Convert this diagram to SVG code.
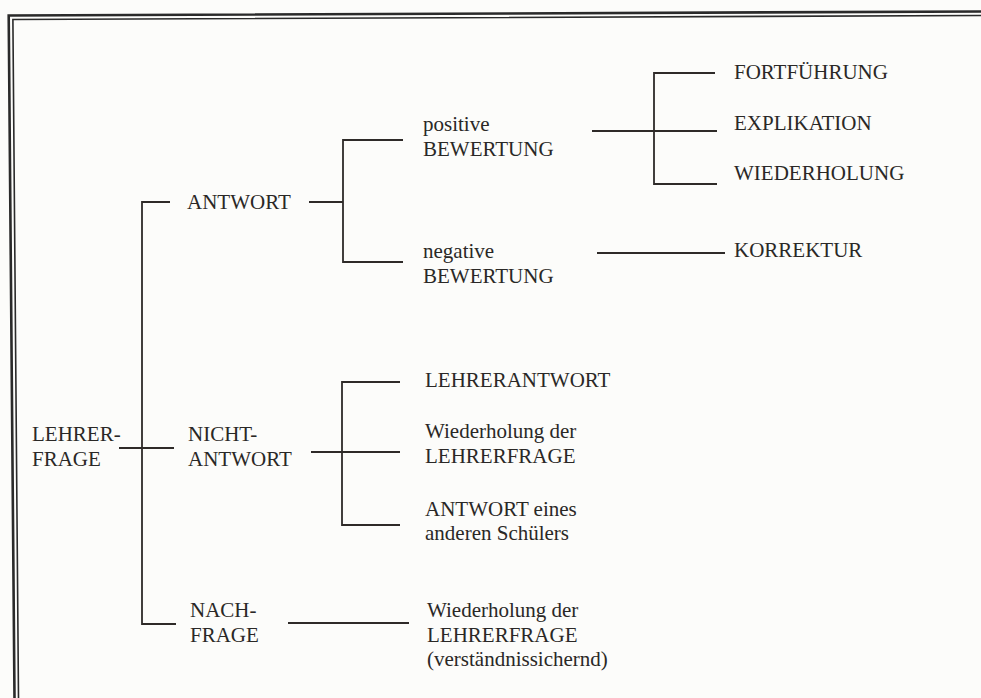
<svg xmlns="http://www.w3.org/2000/svg" width="981" height="698" viewBox="0 0 981 698">
  <style>
    .t { font-family: "Liberation Serif", "Times New Roman", serif; font-size: 21px; fill: #2a2826; }
    .c { stroke: #2e2a28; stroke-width: 1.8; fill: none; stroke-linecap: butt; }
    .b1 { stroke: #2a2a2a; stroke-width: 2.6; fill: none; }
    .b2 { stroke: #2a2a2a; stroke-width: 1.6; fill: none; }
  </style>
  <rect x="0" y="0" width="981" height="698" fill="#fcfcfa"/>
  <g id="frame">
    <path class="b1" d="M 981 11.5 L 8.7 15.5 L 14.5 698"/>
    <path class="b2" d="M 981 15.5 L 12.9 19.5 L 18.5 698"/>
  </g>
  <g id="connectors">
    <path class="c" d="M 119 448 H 174"/>
    <path class="c" d="M 170 202 H 142 V 624 H 176"/>
    <path class="c" d="M 309 202 H 343"/>
    <path class="c" d="M 403 140 H 343 V 262 H 403"/>
    <path class="c" d="M 592 131 H 717"/>
    <path class="c" d="M 715 73 H 654 V 184 H 717"/>
    <path class="c" d="M 597 253 H 725"/>
    <path class="c" d="M 311 452 H 400"/>
    <path class="c" d="M 400 382 H 342 V 525 H 400"/>
    <path class="c" d="M 288 623 H 409"/>
  </g>
  <g id="lehrerfrage"><text class="t" x="32" y="441">LEHRER-</text><text class="t" x="32" y="466">FRAGE</text></g>
  <g id="antwort"><text class="t" x="187" y="209">ANTWORT</text></g>
  <g id="nichtantwort"><text class="t" x="188" y="441">NICHT-</text><text class="t" x="188" y="466">ANTWORT</text></g>
  <g id="nachfrage"><text class="t" x="190" y="617">NACH-</text><text class="t" x="190" y="642">FRAGE</text></g>
  <g id="positive"><text class="t" x="423" y="131">positive</text><text class="t" x="423" y="156">BEWERTUNG</text></g>
  <g id="negative"><text class="t" x="423" y="258">negative</text><text class="t" x="423" y="283">BEWERTUNG</text></g>
  <g id="fortfuehrung"><text class="t" x="734" y="79">FORTFÜHRUNG</text></g>
  <g id="explikation"><text class="t" x="734" y="130">EXPLIKATION</text></g>
  <g id="wiederholung"><text class="t" x="734" y="180">WIEDERHOLUNG</text></g>
  <g id="korrektur"><text class="t" x="734" y="257">KORREKTUR</text></g>
  <g id="lehrerantwort"><text class="t" x="425" y="387">LEHRERANTWORT</text></g>
  <g id="wiederholung-lf"><text class="t" x="425" y="438">Wiederholung  der</text><text class="t" x="425" y="463">LEHRERFRAGE</text></g>
  <g id="antwort-schueler"><text class="t" x="425" y="516">ANTWORT  eines</text><text class="t" x="425" y="540">anderen  Schülers</text></g>
  <g id="wiederholung-vs"><text class="t" x="427" y="617">Wiederholung  der</text><text class="t" x="427" y="642">LEHRERFRAGE</text><text class="t" x="427" y="666">(verständnissichernd)</text></g>
</svg>
